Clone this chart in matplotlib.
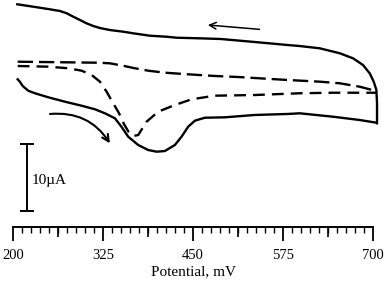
import matplotlib.pyplot as plt
from matplotlib.ticker import MultipleLocator

plt.rcParams['font.family'] = ['Liberation Serif', 'DejaVu Serif']

# reverse scan (upper solid line), potential in mV, current in uA
rev_E = [205.6, 227.8, 251.0, 264.9, 274.2, 283.3, 292.6, 301.9, 311.1, 320.4, 334.3,
         352.8, 366.7, 389.9, 413.1, 427.0, 459.3, 488.5, 535.7, 581.5, 598.2, 626.0,
         653.8, 672.2, 686.1, 695.4, 701.0, 704.7, 705.6, 705.6]
rev_I = [33.24, 32.88, 32.49, 32.24, 31.90, 31.39, 30.90, 30.40, 30.00, 29.70, 29.40,
         29.15, 28.91, 28.55, 28.40, 28.25, 28.16, 28.06, 27.61, 27.16, 27.01, 26.67,
         25.93, 25.18, 24.18, 22.94, 21.69, 20.45, 18.46, 15.48]

# forward scan (lower solid line)
fwd_E = [206.1, 209.0, 213.0, 220.8, 230.1, 248.6, 271.8, 295.0, 313.5, 327.4, 341.3,
         350.6, 359.7, 373.6, 387.5, 399.2, 410.7, 424.6, 433.9, 443.1, 452.4, 466.3,
         494.0, 535.7, 581.5, 598.2, 644.4, 681.5, 704.7]
fwd_I = [22.04, 21.70, 21.05, 20.34, 19.96, 19.36, 18.70, 18.10, 17.57, 16.97, 16.22,
         14.93, 13.48, 12.24, 11.49, 11.24, 11.34, 12.24, 13.48, 14.97, 15.87, 16.31,
         16.37, 16.72, 16.87, 16.97, 16.46, 15.97, 15.57]

# dashed, upper (long dashes)
dash1_E = [206.1, 318.1, 334.3, 352.4, 369.0, 387.5, 410.7, 443.1, 480.1, 512.1,
           581.5, 626.0, 653.8, 681.5, 695.4, 704.7]
dash1_I = [24.67, 24.52, 24.43, 24.07, 23.69, 23.33, 23.03, 22.79, 22.54, 22.39,
           21.94, 21.69, 21.45, 20.94, 20.55, 20.19]

# dashed, lower (with sharp peak)
dash2_E = [206.1, 248.6, 276.4, 295.0, 308.9, 320.4, 329.7, 338.9, 346.8, 353.8, 360.0,
           366.7, 373.6, 385.3, 401.4, 424.6, 447.8, 480.1, 535.7, 598.2, 644.4, 704.7]
dash2_I = [24.03, 23.93, 23.69, 23.33, 22.69, 21.69, 20.19, 18.46, 17.01, 15.37, 14.25,
           13.58, 13.73, 15.72, 17.21, 18.21, 19.06, 19.60, 19.70, 19.96, 20.04, 20.04]

major_ticks = [200, 325, 450, 575, 700]
mid_ticks = [262.5, 387.5, 512.5, 637.5]
scale_uA = 10

fig = plt.figure(figsize=(3.88, 2.81), dpi=100)
ax = fig.add_axes([13.3 / 388, 54 / 281, 359.7 / 388, 227 / 281])

lw = 1.7
ax.plot(rev_E, rev_I, color='black', lw=lw, clip_on=False)
ax.plot(fwd_E, fwd_I, color='black', lw=lw, clip_on=False)
ax.plot(dash1_E, dash1_I, color='black', lw=lw, dashes=(6.5, 2.5), clip_on=False)
ax.plot(dash2_E, dash2_I, color='black', lw=lw, dashes=(5, 3), clip_on=False)

# scan direction arrows
ax.annotate('', xy=(470.4, 30.15), xytext=(542.2, 29.5),
            arrowprops=dict(arrowstyle='->', color='black', lw=1.1,
                            mutation_scale=12, shrinkA=0, shrinkB=0))
ax.annotate('', xy=(334.3, 12.49), xytext=(251, 16.87),
            arrowprops=dict(arrowstyle='->', color='black', lw=1.5,
                            mutation_scale=12, shrinkA=0, shrinkB=0,
                            connectionstyle='arc3,rad=-0.3'))

# 10 uA scale bar
ax.errorbar([218.5], [7.4], yerr=scale_uA / 2, color='black', lw=1.4,
            capsize=5, capthick=1.4)
ax.text(226, 7.0, '10\u00b5A', fontsize=11, va='center', ha='left')

ax.set_xlim(200, 700)
ax.set_ylim(0, 227 / 6.7)

for s in ['left', 'top', 'right']:
    ax.spines[s].set_visible(False)
ax.spines['bottom'].set_linewidth(1.4)
ax.set_yticks([])

ax.set_xticks(major_ticks)
ax.xaxis.set_minor_locator(MultipleLocator(12.5))
ax.tick_params(axis='x', which='major', direction='out', length=10, width=1.3,
               labelsize=10.5, pad=6)
ax.tick_params(axis='x', which='minor', direction='out', length=4, width=1.0)

sec = ax.secondary_xaxis('bottom')
sec.set_xticks(mid_ticks)
sec.set_xticklabels([])
sec.tick_params(direction='out', length=7, width=1.2)
sec.spines['bottom'].set_visible(False)

ax.set_xlabel('Potential, mV', fontsize=11, labelpad=2)

fig.savefig('out.png', dpi=100)
